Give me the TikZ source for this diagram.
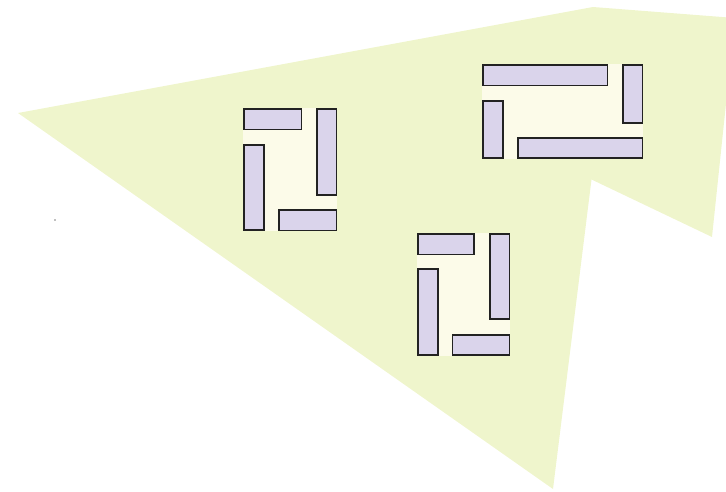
\documentclass[tikz,border=0pt]{standalone}
\usepackage{tikz}
\usetikzlibrary{positioning,fit,backgrounds}

\definecolor{leafgreen}{HTML}{EFF5CC}
\definecolor{barlilac}{HTML}{DAD4EB}
\definecolor{padcream}{HTML}{FCFBE9}
\definecolor{barline}{HTML}{222222}

\begin{document}
\begin{tikzpicture}[
    x=1pt, y=-1pt,
    bar/.style={rectangle, draw=barline, fill=barlilac, line width=1.6pt,
                inner sep=0pt, anchor=north west},
    hbar/.style={bar, minimum width=#1, minimum height=20.2pt},
    vbar/.style={bar, minimum width=19.8pt, minimum height=#1},
    pad/.style={fill=padcream, inner sep=0pt},
  ]

  \useasboundingbox (0,0) rectangle (726,491);

  %% ===== group 1 (left) =====
  \node[hbar=57.4pt] (g1top)   at (243.3,108.3) {};
  \node[vbar=85.8pt] (g1right) at (316,108.3)   {};
  \node[vbar=85.1pt] (g1left)  at (243.3,144.3) {};
  \node[hbar=57.4pt] (g1bot)   at (278.3,209.3) {};

  %% ===== group 2 (top right) =====
  \node[hbar=124.4pt] (g2top)   at (482.3,64.3) {};
  \node[vbar=58.1pt]  (g2right) at (622,64.3)   {};
  \node[vbar=57.4pt]  (g2left)  at (482.3,100)  {};
  \node[hbar=124.4pt] (g2bot)   at (517.3,137)  {};

  %% ===== group 3 (bottom) =====
  \node[hbar=56.1pt] (g3top)   at (417.3,233.3) {};
  \node[vbar=85.1pt] (g3right) at (489,233.3)   {};
  \node[vbar=85.8pt] (g3left)  at (417.3,268.3) {};
  \node[hbar=57pt]   (g3bot)   at (451.7,334)   {};

  %% green field and cream pads behind the bars
  \begin{scope}[on background layer]
    \fill[leafgreen] (18,113) -- (593,7) -- (735,18) -- (712,237)
      -- (591.5,179.5) -- (553,489) -- cycle;
    \node[pad, fit=(g1top)(g1bot)] (pad1) {};
    \node[pad, fit=(g2top)(g2bot)] (pad2) {};
    \node[pad, fit=(g3top)(g3bot)] (pad3) {};
  \end{scope}

  %% speck
  \fill[gray] (55,220) circle (0.8pt);

\end{tikzpicture}
\end{document}
